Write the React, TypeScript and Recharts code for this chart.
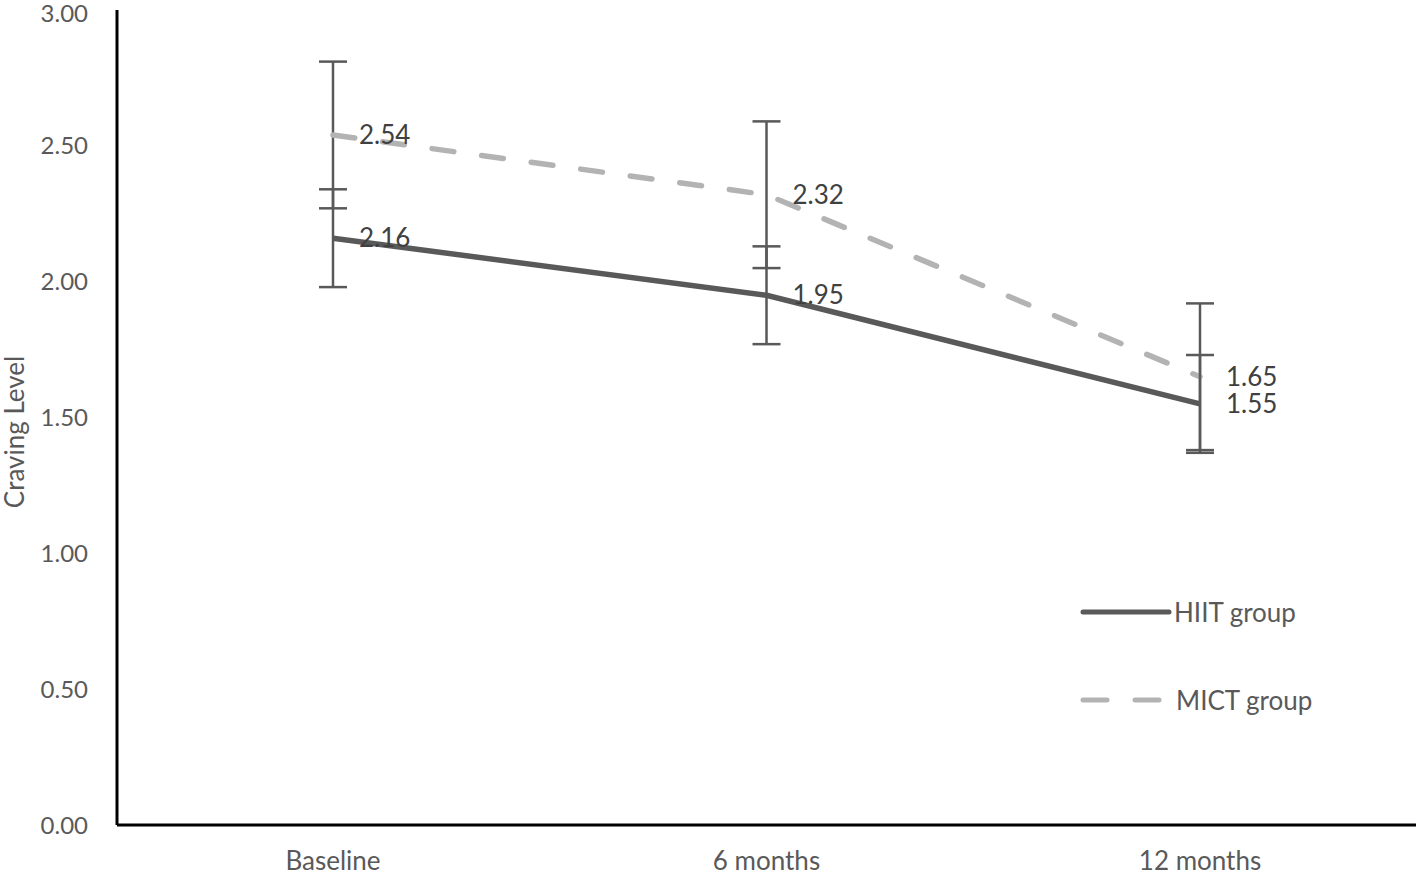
import { LineChart, Line, XAxis, YAxis, ErrorBar, LabelList, Legend } from "recharts";

const categories = ["Baseline", "6 months", "12 months"];
const hiitValues = [2.16, 1.95, 1.55];
const mictValues = [2.54, 2.32, 1.65];
const hiitErrors = [0.18, 0.18, 0.18];
const mictErrors = [0.27, 0.27, 0.27];
const yTicks = [0, 0.5, 1, 1.5, 2, 2.5, 3];

const data = categories.map((name, i) => ({
  name,
  hiit: hiitValues[i],
  mict: mictValues[i],
  hiitErr: hiitErrors[i],
  mictErr: mictErrors[i],
}));

const FONT = "Lato, 'Open Sans', sans-serif";

function LegendBox() {
  return (
    <div style={{ fontFamily: FONT, fontSize: 26, color: "#595959" }}>
      <div style={{ display: "flex", alignItems: "center", height: 34 }}>
        <svg width={92} height={10}>
          <line x1={3} y1={5} x2={89} y2={5} stroke="#595959" strokeWidth={5} strokeLinecap="round" />
        </svg>
        <span style={{ marginLeft: 2 }}>HIIT group</span>
      </div>
      <div style={{ display: "flex", alignItems: "center", height: 34, marginTop: 54 }}>
        <svg width={92} height={10}>
          <line x1={3} y1={5} x2={89} y2={5} stroke="#b3b3b3" strokeWidth={5} strokeLinecap="round" strokeDasharray="24 28" />
        </svg>
        <span style={{ marginLeft: 4 }}>MICT group</span>
      </div>
    </div>
  );
}

export default function App() {
  return (
    <div style={{ position: "absolute", left: 0, top: 0, background: "#fff" }}>
      <LineChart
        width={1416}
        height={875}
        data={data}
        margin={{ top: 10, right: 0, left: 0, bottom: 0 }}
        style={{ fontFamily: FONT }}
      >
        <XAxis
          dataKey="name"
          height={50}
          padding={{ left: 216, right: 216 }}
          tickLine={false}
          axisLine={{ stroke: "#000", strokeWidth: 3 }}
          tick={{ fill: "#595959", fontSize: 26 }}
          tickMargin={21}
        />
        <YAxis
          width={117}
          domain={[0, 3]}
          ticks={yTicks}
          tickFormatter={(v: number) => v.toFixed(2)}
          tickLine={false}
          axisLine={{ stroke: "#000", strokeWidth: 3 }}
          tick={{ fill: "#595959", fontSize: 24 }}
          tickMargin={23}
          label={{
            content: () => (
              <text
                x={24}
                y={432}
                transform="rotate(-90, 24, 432)"
                textAnchor="middle"
                fill="#595959"
                fontSize={26}
                fontFamily={FONT}
              >
                Craving Level
              </text>
            ),
          }}
        />
        <Legend
          layout="vertical"
          align="center"
          verticalAlign="middle"
          wrapperStyle={{ left: 1080, top: 595, width: 320 }}
          content={() => <LegendBox />}
        />
        <Line
          dataKey="mict"
          name="MICT group"
          stroke="#b3b3b3"
          strokeWidth={5.5}
          strokeDasharray="22 28"
          strokeLinecap="round"
          dot={false}
          isAnimationActive={false}
        >
          <ErrorBar dataKey="mictErr" width={14} stroke="#595959" strokeWidth={2.5} direction="y" />
          <LabelList
            dataKey="mict"
            position="right"
            offset={26}
            fill="#404040"
            fontSize={26}
            formatter={(v: any) => Number(v).toFixed(2)}
          />
        </Line>
        <Line
          dataKey="hiit"
          name="HIIT group"
          stroke="#595959"
          strokeWidth={5.5}
          dot={false}
          isAnimationActive={false}
        >
          <ErrorBar dataKey="hiitErr" width={14} stroke="#595959" strokeWidth={2.5} direction="y" />
          <LabelList
            dataKey="hiit"
            position="right"
            offset={26}
            fill="#404040"
            fontSize={26}
            formatter={(v: any) => Number(v).toFixed(2)}
          />
        </Line>
      </LineChart>
    </div>
  );
}
